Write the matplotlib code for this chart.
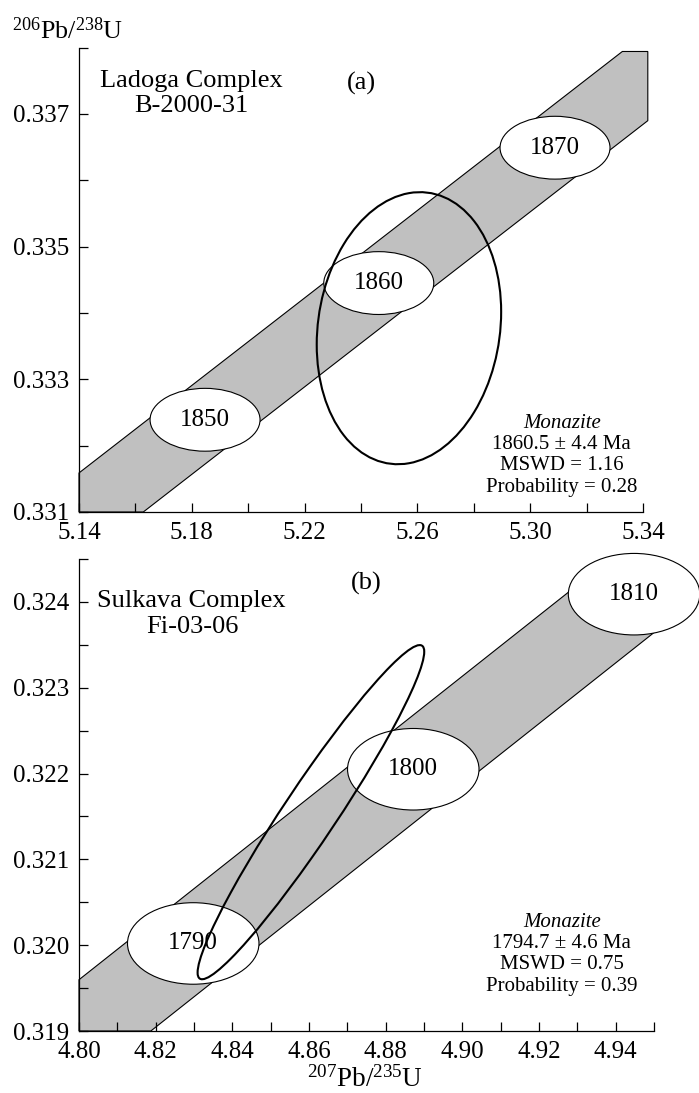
import numpy as np
import matplotlib.pyplot as plt
from matplotlib.patches import Ellipse, PathPatch
from matplotlib.path import Path
from matplotlib.transforms import Bbox
from matplotlib.ticker import FixedLocator, MultipleLocator, FormatStrFormatter

plt.rcParams['font.family'] = ['Liberation Serif', 'DejaVu Serif']
plt.rcParams['mathtext.fontset'] = 'custom'
plt.rcParams['mathtext.rm'] = 'Liberation Serif'
plt.rcParams['mathtext.it'] = 'Liberation Serif:italic'

W, H = 699, 1093

# (a) Ladoga Complex B-2000-31
ages_a = [1850, 1860, 1870]
age_x_a = [5.1847, 5.2463, 5.3088]
age_y_a = [0.33239, 0.33445, 0.33649]
conc_x_a = [5.10, 5.38]          # concordia is a straight line here
conc_y_a = [0.32960, 0.33883]
band_a = 0.00067                  # half width of the grey band (in y)
ell_a = [5.2570, 0.33377, 0.0327, 0.00205, 0.12]   # x, y, half x, half y, rho
xticks_a = [5.14, 5.18, 5.22, 5.26, 5.30, 5.34]
yticks_a = [0.331, 0.333, 0.335, 0.337]
stats_a = ['Monazite', '1860.5 ± 4.4 Ma', 'MSWD = 1.16', 'Probability = 0.28']

# (b) Sulkava Complex Fi-03-06
ages_b = [1790, 1800, 1810]
age_x_b = [4.8298, 4.8872, 4.9448]
age_y_b = [0.32002, 0.32205, 0.32409]
conc_x_b = [4.78, 4.97]
conc_y_b = [0.31826, 0.32498]
band_b = 0.00063
ell_b = [4.8605, 0.32155, 0.02956, 0.001947, 0.96]
xticks_b = [4.80, 4.82, 4.84, 4.86, 4.88, 4.90, 4.92, 4.94]
yticks_b = [0.319, 0.320, 0.321, 0.322, 0.323, 0.324]
stats_b = ['Monazite', '1794.7 ± 4.6 Ma', 'MSWD = 0.75', 'Probability = 0.39']

fig = plt.figure(figsize=(W / 100, H / 100), dpi=100)


def ftext(px, py, s, **kw):
    fig.text(px / W, 1 - py / H, s, **kw)


def panel(ax, ages, mx, my, cx, cy, half, ell, mw, mh, clip):
    x0, x1, y0, y1 = clip
    verts = [(cx[0], cy[0] + half), (cx[1], cy[1] + half),
             (cx[1], cy[1] - half), (cx[0], cy[0] - half),
             (cx[0], cy[0] + half)]
    band = Path(verts, closed=True).clip_to_bbox(Bbox([[x0, y0], [x1, y1]]))
    ax.add_patch(PathPatch(band, fc='#c0c0c0', ec='k', lw=0.8,
                           clip_on=False, zorder=1))
    for t, x, y in zip(ages, mx, my):
        ax.add_patch(Ellipse((x, y), mw, mh, fc='white', ec='k', lw=0.8,
                             clip_on=False, zorder=2))
        ax.text(x, y, str(t), ha='center', va='center', fontsize=18, zorder=4)
    # error ellipse
    ex, ey, sx, sy, rho = ell
    cov = np.array([[sx * sx, rho * sx * sy], [rho * sx * sy, sy * sy]])
    vals, vecs = np.linalg.eigh(cov)
    ang = np.degrees(np.arctan2(vecs[1, 1], vecs[0, 1]))
    ax.add_patch(Ellipse((ex, ey), 2 * np.sqrt(vals[1]), 2 * np.sqrt(vals[0]),
                         angle=ang, fill=False, ec='k', lw=1.5, zorder=3))
    for s in ['top', 'right']:
        ax.spines[s].set_visible(False)
    for s in ['left', 'bottom']:
        ax.spines[s].set_linewidth(0.9)
    ax.tick_params(which='both', direction='in', length=6.5, width=0.9,
                   labelsize=18, pad=7)


# panel a
axa = fig.add_axes([79 / W, 1 - 512 / H, (647.8 - 79) / W, (512 - 47.5) / H])
panel(axa, ages_a, age_x_a, age_y_a, conc_x_a, conc_y_a, band_a, ell_a,
      0.0390, 0.000947, [5.14, 5.3417, 0.331, 0.33794])
axa.set_xlim(5.14, 5.3417)
axa.set_ylim(0.331, 0.338)
axa.spines['bottom'].set_bounds(5.14, 5.34)
axa.xaxis.set_major_locator(FixedLocator(xticks_a))
axa.xaxis.set_minor_locator(MultipleLocator(0.02))
axa.yaxis.set_major_locator(FixedLocator(yticks_a))
axa.yaxis.set_minor_locator(MultipleLocator(0.001))
axa.xaxis.set_major_formatter(FormatStrFormatter('%.2f'))
axa.yaxis.set_major_formatter(FormatStrFormatter('%.3f'))

# panel b
axb = fig.add_axes([79 / W, 1 - 1031 / H, (654 - 79) / W, (1031 - 559) / H])
panel(axb, ages_b, age_x_b, age_y_b, conc_x_b, conc_y_b, band_b, ell_b,
      0.0343, 0.00095, [4.80, 4.95, 0.319, 0.3245])
axb.set_xlim(4.80, 4.95)
axb.set_ylim(0.319, 0.3245)
axb.xaxis.set_major_locator(FixedLocator(xticks_b))
axb.xaxis.set_minor_locator(MultipleLocator(0.01))
axb.yaxis.set_major_locator(FixedLocator(yticks_b))
axb.yaxis.set_minor_locator(MultipleLocator(0.0005))
axb.xaxis.set_major_formatter(FormatStrFormatter('%.2f'))
axb.yaxis.set_major_formatter(FormatStrFormatter('%.3f'))

# labels
ftext(12, 39.3, r'$^{206}$Pb/$^{238}$U', fontsize=18.7, va='baseline')
ftext(365, 1086.5, r'$^{207}$Pb/$^{235}$U', fontsize=19.5, va='baseline', ha='center')

ftext(191, 87.3, 'Ladoga Complex', fontsize=19, ha='center', va='baseline')
ftext(191, 111.7, 'B-2000-31', fontsize=19, ha='center', va='baseline')
ftext(361, 90, '(a)', fontsize=19, ha='center', va='baseline')
ftext(191, 606.7, 'Sulkava Complex', fontsize=19, ha='center', va='baseline')
ftext(192, 632.7, 'Fi-03-06', fontsize=19, ha='center', va='baseline')
ftext(366, 589.3, '(b)', fontsize=19, ha='center', va='baseline')

for i, s in enumerate(stats_a):
    ftext(561.7, 427.7 + 21.3 * i, s, fontsize=15, ha='center', va='baseline',
          style='italic' if i == 0 else 'normal')
for i, s in enumerate(stats_b):
    ftext(561.7, 926.7 + 21.3 * i, s, fontsize=15, ha='center', va='baseline',
          style='italic' if i == 0 else 'normal')

fig.savefig('out.png', dpi=100)
